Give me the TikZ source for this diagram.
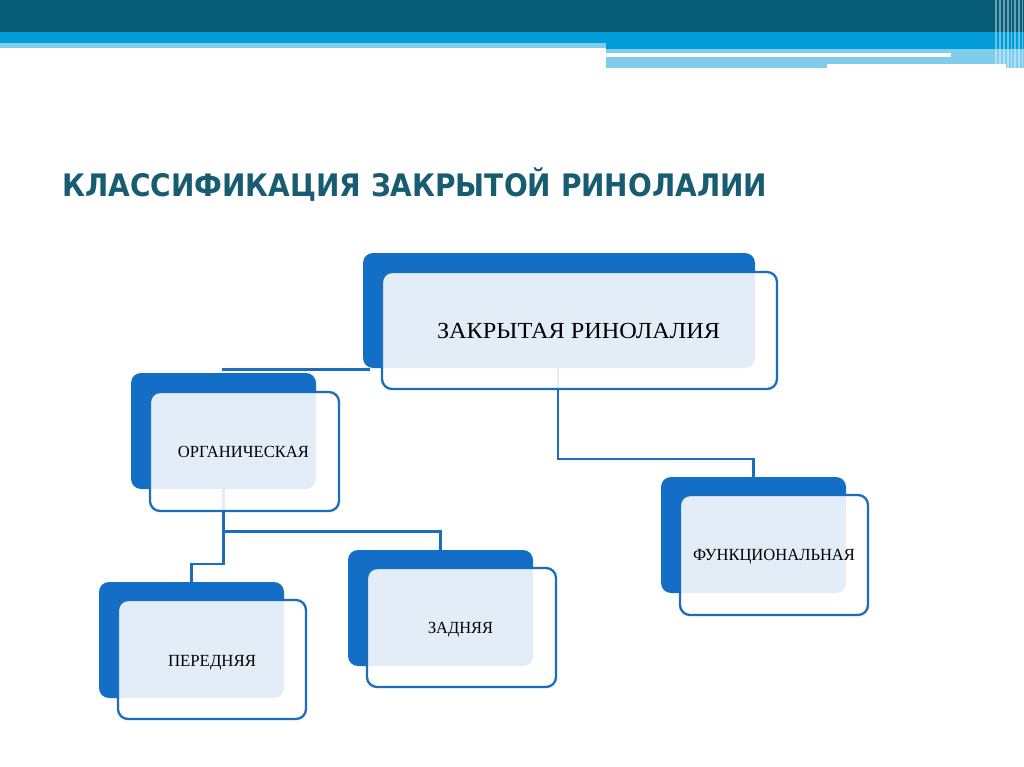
\documentclass[tikz,border=0pt]{standalone}
\usepackage{fontspec}
\usepackage{graphicx}
\setmainfont{Liberation Serif}
\newfontfamily\titlefont{DejaVu Sans}
\usetikzlibrary{backgrounds,calc}
\definecolor{hdark}{HTML}{075D77}
\definecolor{hblue}{HTML}{019BD7}
\definecolor{hlight}{HTML}{80CCEB}
\definecolor{boxblue}{HTML}{126FC5}
\definecolor{lineblue}{HTML}{1B6DBE}
\definecolor{titlec}{HTML}{185C71}
\tikzset{
  backbox/.style={rectangle, rounded corners=10pt, fill=boxblue, inner sep=0pt},
  frontbox/.style={rectangle, rounded corners=10pt, fill=white, fill opacity=0.88, draw=lineblue, draw opacity=1, line width=2.3pt, inner sep=0pt},
  conn/.style={draw=lineblue, line width=2.4pt},
  lbl/.style={inner sep=0pt, anchor=base, text=black},
}
\begin{document}
\begin{tikzpicture}[x=1pt,y=-1pt]
\useasboundingbox (0,0) rectangle (1024,767);
% header
\fill[hdark] (0,0) rectangle (1024,32);
\fill[hblue] (0,32) rectangle (1024,43);
\fill[hlight] (0,43) rectangle (606,48);
\fill[hblue] (606,43) rectangle (1024,49);
\fill[hlight] (606,49) rectangle (1024,68);
\fill[white] (606,53) rectangle (951,57);
\fill[white] (827,64) rectangle (1006,68);
\foreach \xx/\ww in {995/2,999/1.5,1003/2,1007/1.5,1010.5/1.5,1014/1.5,1017.5/2,1021.5/1.5}{
  \fill[white, opacity=0.4] (\xx,0) rectangle ({\xx+\ww},68);
}
% title
\node[anchor=base west, inner sep=0pt, text=titlec, font=\titlefont\bfseries\fontsize{31}{31}\selectfont] (title) at (62,197) {\resizebox{705pt}{\height}{КЛАССИФИКАЦИЯ ЗАКРЫТОЙ РИНОЛАЛИИ}};
% boxes
\node[backbox, minimum width=392pt, minimum height=115pt] (mainB) at (559,310.5) {};
\node[frontbox, minimum width=395pt, minimum height=117pt] (mainF) at (579.5,330.5) {};
\node[backbox, minimum width=185pt, minimum height=116pt] (orgB) at (223.5,431) {};
\node[frontbox, minimum width=189pt, minimum height=119pt] (orgF) at (244.5,451.5) {};
\node[backbox, minimum width=185pt, minimum height=116pt] (perB) at (191.5,640) {};
\node[frontbox, minimum width=188pt, minimum height=119pt] (perF) at (212,659.5) {};
\node[backbox, minimum width=185pt, minimum height=116pt] (zadB) at (440.5,608) {};
\node[frontbox, minimum width=189pt, minimum height=119pt] (zadF) at (461.5,627.5) {};
\node[backbox, minimum width=185pt, minimum height=116pt] (funB) at (753.5,535) {};
\node[frontbox, minimum width=188pt, minimum height=120pt] (funF) at (774,555) {};
% labels
\node[lbl, font=\fontsize{23}{23}\selectfont] (tmain) at (578.5,338) {\resizebox{283pt}{\height}{ЗАКРЫТАЯ РИНОЛАЛИЯ}};
\node[lbl, font=\fontsize{17}{17}\selectfont] (torg) at (243.5,457) {\resizebox{131pt}{\height}{ОРГАНИЧЕСКАЯ}};
\node[lbl, font=\fontsize{17}{17}\selectfont] (tper) at (212,666) {\resizebox{88pt}{\height}{ПЕРЕДНЯЯ}};
\node[lbl, font=\fontsize{17}{17}\selectfont] (tzad) at (460.5,633) {\resizebox{65pt}{\height}{ЗАДНЯЯ}};
\node[lbl, font=\fontsize{17}{17}\selectfont] (tfun) at (774,560) {\resizebox{162pt}{\height}{ФУНКЦИОНАЛЬНАЯ}};
% connectors
\begin{scope}[on background layer]
\coordinate (m1) at (222,369.5);
\draw[conn] (m1) -- ([xshift=7pt]m1 -| mainB.west);
\coordinate (fv) at (558,459);
\draw[conn] (fv |- mainB.south) -- (fv) -| (funB.north);
\coordinate (oj) at ($(orgB.south |- 0,531.5)$);
\coordinate (pj) at ($(orgB.south |- 0,564)$);
\draw[conn] (orgB.south) -- (oj) -| (zadB.north);
\draw[conn] (oj) -- (pj) -| (perB.north);
\end{scope}
\end{tikzpicture}
\end{document}
